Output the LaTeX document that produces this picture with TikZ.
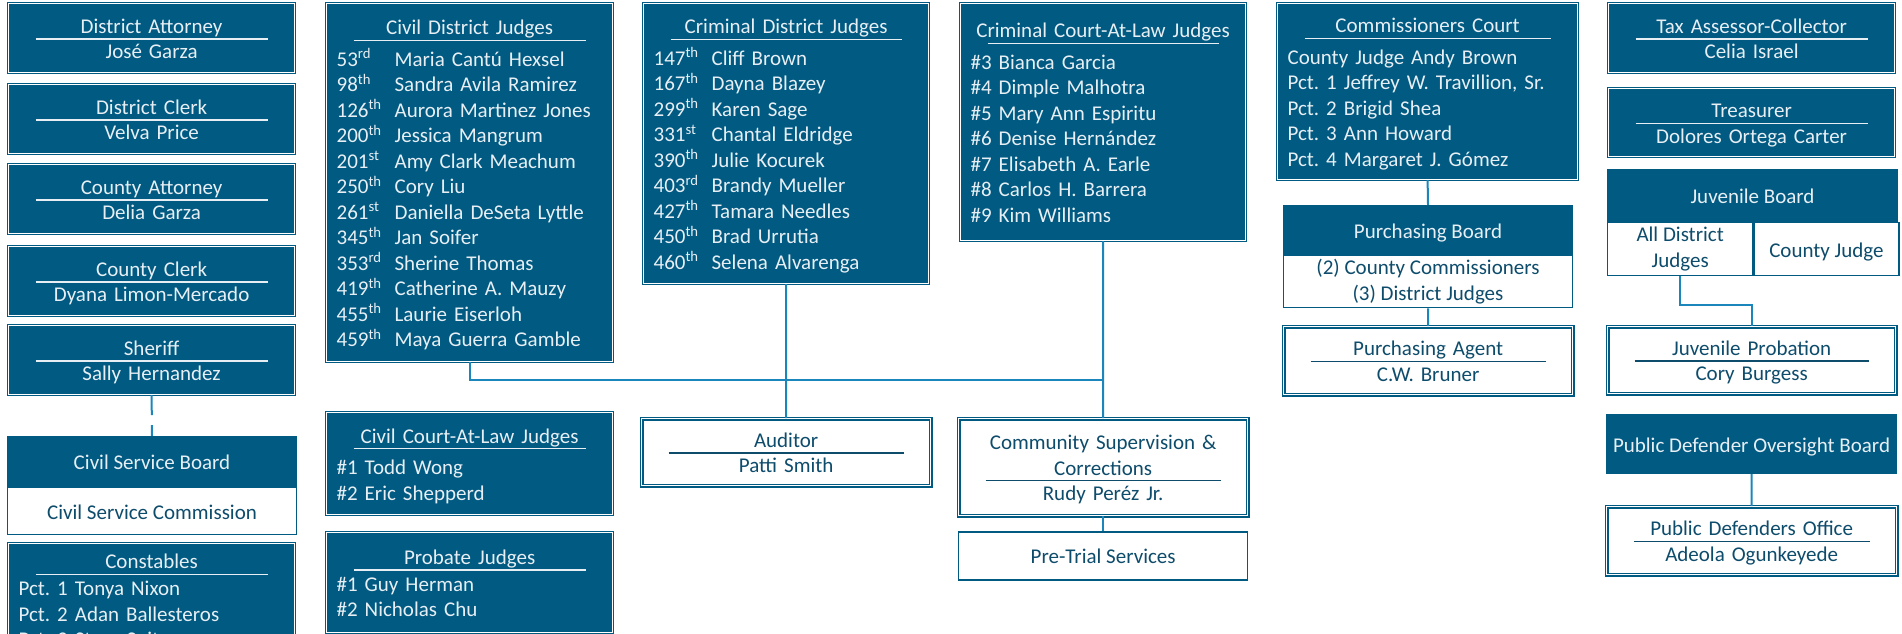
\documentclass[tikz,border=0pt]{standalone}
\usepackage{fontspec}
\setmainfont{Carlito}
\usetikzlibrary{positioning}

\definecolor{navy}{HTML}{005A82}
\definecolor{pale}{HTML}{E8EFF4}
\definecolor{ink}{HTML}{0E4C6C}
\definecolor{wire}{HTML}{1A86BB}

\newcommand\topstrut{\noindent\rule{0pt}{20pt}}
\newcommand\botstrut{\rule[-4pt]{0pt}{4pt}}
% title with a rule under it
\newcommand\heading[1]{\makebox[\hsize]{\rlap{\makebox[\hsize]{#1}}\hfill\rule[-6.3pt]{\dimexpr\hsize-34pt\relax}{1.3pt}\hfill}}
\newcommand\seat[3]{\makebox[58pt][l]{#1\textsuperscript{#2}}#3}

\begin{document}
\begin{tikzpicture}[x=1pt,y=-1pt,
    every node/.style={font=\fontsize{21}{25.5}\selectfont\frenchspacing, inner sep=0pt, anchor=north west,
      execute at begin node=\topstrut, execute at end node=\botstrut},
    dark/.style={draw=navy, fill=navy, text=pale, line width=1.2pt, double=white, double distance=1.2pt, align=center},
    light/.style={draw=navy, fill=white, text=ink, line width=1.3pt, double=white, double distance=1.6pt, align=center},
    head/.style={draw=navy, fill=navy, text=pale, line width=1pt, align=center},
    body/.style={draw=navy, fill=white, text=ink, line width=1.3pt, align=center},
    officer/.style={dark, minimum width=286pt, minimum height=69pt, text width=266pt},
    link/.style={draw=wire, line width=2pt}]
  \useasboundingbox (0,0) rectangle (1902,634);
  \clip (0,0) rectangle (1902,634);

  % elected officials, left column
  \node[officer] (da) at (8,3) {\heading{District Attorney}\\José Garza};
  \node[officer] (dc) at (8,84) {\heading{District Clerk}\\Velva Price};
  \node[officer] (ca) at (8,164) {\heading{County Attorney}\\Delia Garza};
  \node[officer] (cc) at (8,246) {\heading{County Clerk}\\Dyana Limon-Mercado};
  \node[officer] (sheriff) at (8,325) {\heading{Sheriff}\\Sally Hernandez};
  \node[head, minimum width=289pt, minimum height=50pt] (csb) at (7,436) {Civil Service Board};
  \node[body, below=0pt of csb, minimum width=289pt, minimum height=47pt] (csc) {Civil Service Commission};
  \node[officer, align=left, minimum height=112pt] (const) at (8,543) {\heading{Constables}\\[1.5pt]
    Pct. 1 Tonya Nixon\\Pct. 2 Adan Ballesteros\\Pct. 3 Stacy Suits};

  % judges
  \node[dark, align=left, minimum width=286pt, minimum height=358pt, text width=266pt] (cdj) at (326,3) {\heading{Civil District Judges}\\[6pt]
    \seat{53}{rd}{Maria Cantú Hexsel}\\
    \seat{98}{th}{Sandra Avila Ramirez}\\
    \seat{126}{th}{Aurora Martinez Jones}\\
    \seat{200}{th}{Jessica Mangrum}\\
    \seat{201}{st}{Amy Clark Meachum}\\
    \seat{250}{th}{Cory Liu}\\
    \seat{261}{st}{Daniella DeSeta Lyttle}\\
    \seat{345}{th}{Jan Soifer}\\
    \seat{353}{rd}{Sherine Thomas}\\
    \seat{419}{th}{Catherine A. Mauzy}\\
    \seat{455}{th}{Laurie Eiserloh}\\
    \seat{459}{th}{Maya Guerra Gamble}};
  \node[dark, align=left, minimum width=285pt, minimum height=280pt, text width=265pt] (crdj) at (643,3) {\heading{Criminal District Judges}\\[6pt]
    \seat{147}{th}{Cliff Brown}\\
    \seat{167}{th}{Dayna Blazey}\\
    \seat{299}{th}{Karen Sage}\\
    \seat{331}{st}{Chantal Eldridge}\\
    \seat{390}{th}{Julie Kocurek}\\
    \seat{403}{rd}{Brandy Mueller}\\
    \seat{427}{th}{Tamara Needles}\\
    \seat{450}{th}{Brad Urrutia}\\
    \seat{460}{th}{Selena Alvarenga}};
  \node[dark, align=left, minimum width=285pt, minimum height=237pt, text width=265pt] (crcl) at (960,3) {\heading{Criminal Court-At-Law Judges}\\[6pt]
    \#3 Bianca Garcia\\\#4 Dimple Malhotra\\\#5 Mary Ann Espiritu\\\#6 Denise Hernández\\
    \#7 Elisabeth A. Earle\\\#8 Carlos H. Barrera\\\#9 Kim Williams};
  \node[dark, align=left, minimum width=286pt, minimum height=102pt, text width=266pt] (cvcl) at (326,412) {\heading{Civil Court-At-Law Judges}\\[6pt]
    \#1 Todd Wong\\\#2 Eric Shepperd};
  \node[dark, align=left, minimum width=286pt, minimum height=100pt, text width=266pt] (probate) at (326,532) {\heading{Probate Judges}\\[1.5pt]
    \#1 Guy Herman\\\#2 Nicholas Chu};
  \node[light, minimum width=289pt, minimum height=67pt, text width=269pt] (auditor) at (641,418) {\heading{Auditor}\\Patti Smith};
  \node[light, minimum width=289pt, minimum height=97pt, text width=269pt] (cscd) at (958,418) {Community Supervision \&\\\heading{Corrections}\\Rudy Peréz Jr.};
  \node[body, below=15pt of cscd, minimum width=289pt, minimum height=48pt] (pretrial) {Pre-Trial Services};

  % commissioners court
  \node[dark, align=left, minimum width=300pt, minimum height=176pt, text width=280pt] (comm) at (1277,3) {\heading{Commissioners Court}\\[6pt]
    County Judge Andy Brown\\Pct. 1 Jeffrey W. Travillion, Sr.\\Pct. 2 Brigid Shea\\Pct. 3 Ann Howard\\Pct. 4 Margaret J. Gómez};
  \node[head, minimum width=289pt, minimum height=49pt] (pboard) at (1283,205) {Purchasing Board};
  \node[body, below=0pt of pboard, minimum width=289pt, minimum height=52pt] (pbody) {(2) County Commissioners\\(3) District Judges};
  \node[light, minimum width=289pt, minimum height=68pt, text width=269pt] (pagent) at (1283,326) {\heading{Purchasing Agent}\\C.W. Bruner};

  % right column
  \node[officer] (tax) at (1608,3) {\heading{Tax Assessor-Collector}\\Celia Israel};
  \node[officer, minimum height=68pt] (treas) at (1608,88) {\heading{Treasurer}\\Dolores Ortega Carter};
  \node[head, minimum width=290pt, minimum height=52pt] (jboard) at (1607,169) {Juvenile Board};
  \node[body, minimum width=145pt, minimum height=53pt] (jbl) at (jboard.south west) {All District\\Judges};
  \node[body, right=0pt of jbl, minimum width=145pt, minimum height=53pt] (jbr) {County Judge};
  \node[light, minimum width=288pt, minimum height=67pt, text width=268pt] (jprob) at (1607,326) {\heading{Juvenile Probation}\\Cory Burgess};
  \node[head, minimum width=290pt, minimum height=59pt] (pdob) at (1606,414) {Public Defender Oversight Board};
  \node[light, minimum width=290pt, minimum height=68pt, text width=270pt] (pdo) at (1606,506) {\heading{Public Defenders Office}\\Adeola Ogunkeyede};

  % connectors
  \draw[link, dash pattern=on 20pt off 10pt] (sheriff.south) -- (csb.north);
  \path (crcl.south) ++(0,139) coordinate (join);
  \draw[link] (cdj.south) |- (join);
  \draw[link] (crcl.south) -- (cscd.north);
  \draw[link] (crdj.south) -- (auditor.north);
  \draw[link] (cscd.south) -- (pretrial.north);
  \draw[link] (comm.south) -- (pboard.north);
  \draw[link] (pbody.south) -- (pagent.north);
  \draw[link] (jbl.south) -- ++(0,29) -| (jprob.north);
  \draw[link] (pdob.south) -- (pdo.north);
\end{tikzpicture}
\end{document}
